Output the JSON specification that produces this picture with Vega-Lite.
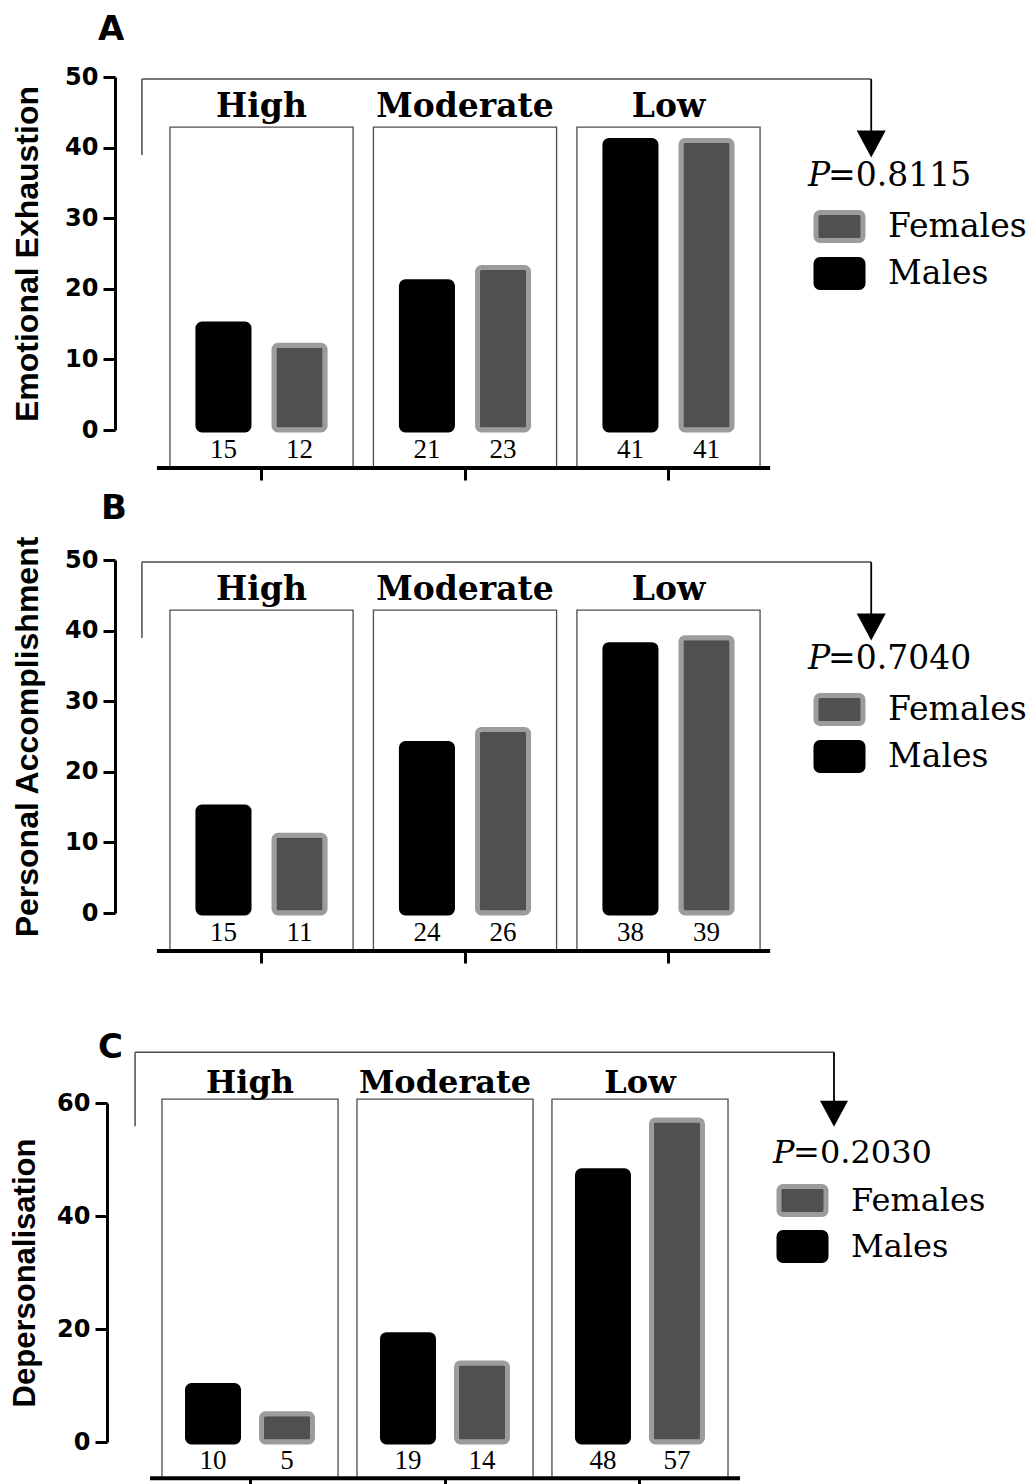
{
  "$schema": "https://vega.github.io/schema/vega-lite/v6.json",
  "padding": {"left": 9, "top": 13, "right": 0, "bottom": 0},
  "background": "white",
  "datasets": {
    "bars": [
      {"panel": "A", "group": "High", "sex": "Males", "value": 15},
      {"panel": "A", "group": "High", "sex": "Females", "value": 12},
      {"panel": "A", "group": "Moderate", "sex": "Males", "value": 21},
      {"panel": "A", "group": "Moderate", "sex": "Females", "value": 23},
      {"panel": "A", "group": "Low", "sex": "Males", "value": 41},
      {"panel": "A", "group": "Low", "sex": "Females", "value": 41},
      {"panel": "B", "group": "High", "sex": "Males", "value": 15},
      {"panel": "B", "group": "High", "sex": "Females", "value": 11},
      {"panel": "B", "group": "Moderate", "sex": "Males", "value": 24},
      {"panel": "B", "group": "Moderate", "sex": "Females", "value": 26},
      {"panel": "B", "group": "Low", "sex": "Males", "value": 38},
      {"panel": "B", "group": "Low", "sex": "Females", "value": 39},
      {"panel": "C", "group": "High", "sex": "Males", "value": 10},
      {"panel": "C", "group": "High", "sex": "Females", "value": 5},
      {"panel": "C", "group": "Moderate", "sex": "Males", "value": 19},
      {"panel": "C", "group": "Moderate", "sex": "Females", "value": 14},
      {"panel": "C", "group": "Low", "sex": "Males", "value": 48},
      {"panel": "C", "group": "Low", "sex": "Females", "value": 57}
    ],
    "groups": [{"group": "High"}, {"group": "Moderate"}, {"group": "Low"}],
    "pvals": [
      {"panel": "A", "p": "=0.8115"},
      {"panel": "B", "p": "=0.7040"},
      {"panel": "C", "p": "=0.2030"}
    ],
    "one": [{}]
  },
  "spacing": 66,
  "resolve": {
    "scale": {"x": "independent", "y": "independent", "xOffset": "independent", "fill": "independent", "stroke": "independent"},
    "legend": {"fill": "independent", "stroke": "independent"}
  },
  "vconcat": [
    {
      "spacing": 9,
      "resolve": {
        "scale": {"x": "independent", "y": "independent", "xOffset": "independent", "fill": "independent", "stroke": "independent"},
        "legend": {"fill": "independent", "stroke": "independent"}
      },
      "vconcat": [
        {
          "width": 700, "height": 353,
          "title": {"text": "A", "anchor": "start", "frame": "group", "dx": -17, "offset": 18, "font": "DejaVu Sans", "fontWeight": "bold", "fontSize": 34, "color": "black"},
          "layer": [
            {
              "data": {"name": "groups"},
              "mark": {"type": "rect", "fillOpacity": 0, "stroke": "#4d4d4d", "strokeWidth": 1.3},
              "encoding": {
                "x": {"field": "group", "type": "nominal", "sort": null,
                  "scale": {"domain": ["High", "Moderate", "Low"], "paddingInner": 0.1, "paddingOuter": 0.27},
                  "axis": {"orient": "bottom", "offset": 38, "domain": false, "labels": false, "ticks": true, "tickSize": 12, "tickWidth": 3, "tickColor": "black", "title": null, "grid": false}},
                "y": {"datum": 42.9, "type": "quantitative"},
                "y2": {"datum": -5.38}
              }
            },
            {
              "data": {"name": "bars"},
              "transform": [{"filter": {"field": "panel", "equal": "A"}}],
              "mark": {"type": "bar", "cornerRadius": 4, "strokeWidth": 5},
              "encoding": {
                "x": {"field": "group", "type": "nominal", "sort": null},
                "xOffset": {"field": "sex", "type": "nominal", "scale": {"domain": ["Males", "Females"], "paddingInner": 0.329, "paddingOuter": 0.368}},
                "y": {"field": "value", "type": "quantitative",
                  "scale": {"domain": [0, 50], "nice": false, "zero": true},
                  "axis": {"title": "Emotional Exhaustion", "values": [0, 10, 20, 30, 40, 50], "grid": false, "domain": true, "domainColor": "black", "domainWidth": 3, "ticks": true, "tickSize": 12, "tickWidth": 3, "tickColor": "black", "labelFont": "DejaVu Sans", "labelFontWeight": "bold", "labelFontSize": 24, "labelColor": "black", "labelPadding": 5, "labelFlush": false, "titleFont": "Liberation Sans", "titleFontWeight": "bold", "titleFontSize": 32, "titleColor": "black", "titlePadding": 20}},
                "fill": {"field": "sex", "type": "nominal", "scale": {"domain": ["Females", "Males"], "range": ["#505050", "#000000"]},
                  "legend": {"title": null, "orient": "none", "legendX": 702, "legendY": 127, "padding": 0, "symbolType": "M-0.975,-0.7L0.975,-0.7A0.2,0.2,0,0,1,1.175,-0.5L1.175,0.5A0.2,0.2,0,0,1,0.975,0.7L-0.975,0.7A0.2,0.2,0,0,1,-1.175,0.5L-1.175,-0.5A0.2,0.2,0,0,1,-0.975,-0.7Z", "symbolSize": 1600, "symbolStrokeWidth": 5, "symbolOpacity": 1, "labelFont": "DejaVu Serif", "labelFontSize": 33, "labelColor": "black", "labelOffset": 26, "rowPadding": -2}},
                "stroke": {"field": "sex", "type": "nominal", "scale": {"domain": ["Females", "Males"], "range": ["#9c9c9c", "#000000"]},
                  "legend": {"title": null, "orient": "none", "legendX": 702, "legendY": 127, "padding": 0, "symbolType": "M-0.975,-0.7L0.975,-0.7A0.2,0.2,0,0,1,1.175,-0.5L1.175,0.5A0.2,0.2,0,0,1,0.975,0.7L-0.975,0.7A0.2,0.2,0,0,1,-1.175,0.5L-1.175,-0.5A0.2,0.2,0,0,1,-0.975,-0.7Z", "symbolSize": 1600, "symbolStrokeWidth": 5, "symbolOpacity": 1, "labelFont": "DejaVu Serif", "labelFontSize": 33, "labelColor": "black", "labelOffset": 26, "rowPadding": -2}}
              }
            },
            {
              "data": {"name": "bars"},
              "transform": [{"filter": {"field": "panel", "equal": "A"}}],
              "mark": {"type": "text", "font": "Liberation Serif", "fontSize": 27, "baseline": "middle", "color": "black"},
              "encoding": {
                "x": {"field": "group", "type": "nominal", "sort": null},
                "xOffset": {"field": "sex", "type": "nominal"},
                "y": {"datum": -2.8, "type": "quantitative"},
                "text": {"field": "value", "type": "quantitative"}
              }
            },
            {
              "data": {"name": "groups"},
              "mark": {"type": "text", "font": "DejaVu Serif", "fontWeight": "bold", "fontSize": 33, "baseline": "alphabetic", "color": "black"},
              "encoding": {
                "x": {"field": "group", "type": "nominal", "sort": null},
                "y": {"datum": 44.3, "type": "quantitative"},
                "text": {"field": "group", "type": "nominal"}
              }
            },
            {
              "data": {"name": "one"},
              "mark": {"type": "rule", "color": "black", "strokeWidth": 4},
              "encoding": {
                "x": {"datum": "High", "type": "nominal", "bandPosition": -0.071},
                "x2": {"datum": "Low", "bandPosition": 1.055},
                "y": {"datum": -5.38, "type": "quantitative"}
              }
            },
            {
              "data": {"name": "one"},
              "mark": {"type": "rule", "color": "#4d4d4d", "strokeWidth": 1.5},
              "encoding": {
                "x": {"datum": "High", "type": "nominal", "bandPosition": -0.153},
                "x2": {"datum": "Low", "bandPosition": 1.607},
                "y": {"datum": 49.7, "type": "quantitative"}
              }
            },
            {
              "data": {"name": "one"},
              "mark": {"type": "rule", "color": "#4d4d4d", "strokeWidth": 1.5},
              "encoding": {
                "x": {"datum": "High", "type": "nominal", "bandPosition": -0.153},
                "y": {"datum": 49.7, "type": "quantitative"},
                "y2": {"datum": 38.95}
              }
            },
            {
              "data": {"name": "one"},
              "mark": {"type": "rule", "color": "black", "strokeWidth": 1.8},
              "encoding": {
                "x": {"datum": "Low", "type": "nominal", "bandPosition": 1.607},
                "y": {"datum": 49.7, "type": "quantitative"},
                "y2": {"datum": 42}
              }
            },
            {
              "data": {"name": "one"},
              "mark": {"type": "point", "shape": "M-1,-0.93L1,-0.93L0,0.93Z", "size": 841, "filled": true, "color": "black", "opacity": 1},
              "encoding": {
                "x": {"datum": "Low", "type": "nominal", "bandPosition": 1.607},
                "y": {"datum": 40.5, "type": "quantitative"}
              }
            },
            {
              "data": {"name": "one"},
              "mark": {"type": "text", "text": "P", "font": "DejaVu Serif", "fontStyle": "italic", "fontSize": 33, "align": "left", "baseline": "alphabetic", "color": "black"},
              "encoding": {
                "x": {"datum": "Low", "type": "nominal", "bandPosition": 1.262},
                "y": {"datum": 34.6, "type": "quantitative"}
              }
            },
            {
              "data": {"name": "pvals"},
              "transform": [{"filter": {"field": "panel", "equal": "A"}}],
              "mark": {"type": "text", "font": "DejaVu Serif", "fontSize": 33, "align": "left", "baseline": "alphabetic", "color": "black", "dx": 20},
              "encoding": {
                "x": {"datum": "Low", "type": "nominal", "bandPosition": 1.262},
                "y": {"datum": 34.6, "type": "quantitative"},
                "text": {"field": "p", "type": "nominal"}
              }
            }
          ]
        },
        {
          "width": 700, "height": 353,
          "title": {"text": "B", "anchor": "start", "frame": "group", "dx": -14, "offset": 10, "font": "DejaVu Sans", "fontWeight": "bold", "fontSize": 34, "color": "black"},
          "layer": [
            {
              "data": {"name": "groups"},
              "mark": {"type": "rect", "fillOpacity": 0, "stroke": "#4d4d4d", "strokeWidth": 1.3},
              "encoding": {
                "x": {"field": "group", "type": "nominal", "sort": null,
                  "scale": {"domain": ["High", "Moderate", "Low"], "paddingInner": 0.1, "paddingOuter": 0.27},
                  "axis": {"orient": "bottom", "offset": 38, "domain": false, "labels": false, "ticks": true, "tickSize": 12, "tickWidth": 3, "tickColor": "black", "title": null, "grid": false}},
                "y": {"datum": 42.9, "type": "quantitative"},
                "y2": {"datum": -5.38}
              }
            },
            {
              "data": {"name": "bars"},
              "transform": [{"filter": {"field": "panel", "equal": "B"}}],
              "mark": {"type": "bar", "cornerRadius": 4, "strokeWidth": 5},
              "encoding": {
                "x": {"field": "group", "type": "nominal", "sort": null},
                "xOffset": {"field": "sex", "type": "nominal", "scale": {"domain": ["Males", "Females"], "paddingInner": 0.329, "paddingOuter": 0.368}},
                "y": {"field": "value", "type": "quantitative",
                  "scale": {"domain": [0, 50], "nice": false, "zero": true},
                  "axis": {"title": "Personal Accomplishment", "values": [0, 10, 20, 30, 40, 50], "grid": false, "domain": true, "domainColor": "black", "domainWidth": 3, "ticks": true, "tickSize": 12, "tickWidth": 3, "tickColor": "black", "labelFont": "DejaVu Sans", "labelFontWeight": "bold", "labelFontSize": 24, "labelColor": "black", "labelPadding": 5, "labelFlush": false, "titleFont": "Liberation Sans", "titleFontWeight": "bold", "titleFontSize": 32, "titleColor": "black", "titlePadding": 20}},
                "fill": {"field": "sex", "type": "nominal", "scale": {"domain": ["Females", "Males"], "range": ["#505050", "#000000"]},
                  "legend": {"title": null, "orient": "none", "legendX": 702, "legendY": 127, "padding": 0, "symbolType": "M-0.975,-0.7L0.975,-0.7A0.2,0.2,0,0,1,1.175,-0.5L1.175,0.5A0.2,0.2,0,0,1,0.975,0.7L-0.975,0.7A0.2,0.2,0,0,1,-1.175,0.5L-1.175,-0.5A0.2,0.2,0,0,1,-0.975,-0.7Z", "symbolSize": 1600, "symbolStrokeWidth": 5, "symbolOpacity": 1, "labelFont": "DejaVu Serif", "labelFontSize": 33, "labelColor": "black", "labelOffset": 26, "rowPadding": -2}},
                "stroke": {"field": "sex", "type": "nominal", "scale": {"domain": ["Females", "Males"], "range": ["#9c9c9c", "#000000"]},
                  "legend": {"title": null, "orient": "none", "legendX": 702, "legendY": 127, "padding": 0, "symbolType": "M-0.975,-0.7L0.975,-0.7A0.2,0.2,0,0,1,1.175,-0.5L1.175,0.5A0.2,0.2,0,0,1,0.975,0.7L-0.975,0.7A0.2,0.2,0,0,1,-1.175,0.5L-1.175,-0.5A0.2,0.2,0,0,1,-0.975,-0.7Z", "symbolSize": 1600, "symbolStrokeWidth": 5, "symbolOpacity": 1, "labelFont": "DejaVu Serif", "labelFontSize": 33, "labelColor": "black", "labelOffset": 26, "rowPadding": -2}}
              }
            },
            {
              "data": {"name": "bars"},
              "transform": [{"filter": {"field": "panel", "equal": "B"}}],
              "mark": {"type": "text", "font": "Liberation Serif", "fontSize": 27, "baseline": "middle", "color": "black"},
              "encoding": {
                "x": {"field": "group", "type": "nominal", "sort": null},
                "xOffset": {"field": "sex", "type": "nominal"},
                "y": {"datum": -2.8, "type": "quantitative"},
                "text": {"field": "value", "type": "quantitative"}
              }
            },
            {
              "data": {"name": "groups"},
              "mark": {"type": "text", "font": "DejaVu Serif", "fontWeight": "bold", "fontSize": 33, "baseline": "alphabetic", "color": "black"},
              "encoding": {
                "x": {"field": "group", "type": "nominal", "sort": null},
                "y": {"datum": 44.3, "type": "quantitative"},
                "text": {"field": "group", "type": "nominal"}
              }
            },
            {
              "data": {"name": "one"},
              "mark": {"type": "rule", "color": "black", "strokeWidth": 4},
              "encoding": {
                "x": {"datum": "High", "type": "nominal", "bandPosition": -0.071},
                "x2": {"datum": "Low", "bandPosition": 1.055},
                "y": {"datum": -5.38, "type": "quantitative"}
              }
            },
            {
              "data": {"name": "one"},
              "mark": {"type": "rule", "color": "#4d4d4d", "strokeWidth": 1.5},
              "encoding": {
                "x": {"datum": "High", "type": "nominal", "bandPosition": -0.153},
                "x2": {"datum": "Low", "bandPosition": 1.607},
                "y": {"datum": 49.7, "type": "quantitative"}
              }
            },
            {
              "data": {"name": "one"},
              "mark": {"type": "rule", "color": "#4d4d4d", "strokeWidth": 1.5},
              "encoding": {
                "x": {"datum": "High", "type": "nominal", "bandPosition": -0.153},
                "y": {"datum": 49.7, "type": "quantitative"},
                "y2": {"datum": 38.95}
              }
            },
            {
              "data": {"name": "one"},
              "mark": {"type": "rule", "color": "black", "strokeWidth": 1.8},
              "encoding": {
                "x": {"datum": "Low", "type": "nominal", "bandPosition": 1.607},
                "y": {"datum": 49.7, "type": "quantitative"},
                "y2": {"datum": 42}
              }
            },
            {
              "data": {"name": "one"},
              "mark": {"type": "point", "shape": "M-1,-0.93L1,-0.93L0,0.93Z", "size": 841, "filled": true, "color": "black", "opacity": 1},
              "encoding": {
                "x": {"datum": "Low", "type": "nominal", "bandPosition": 1.607},
                "y": {"datum": 40.5, "type": "quantitative"}
              }
            },
            {
              "data": {"name": "one"},
              "mark": {"type": "text", "text": "P", "font": "DejaVu Serif", "fontStyle": "italic", "fontSize": 33, "align": "left", "baseline": "alphabetic", "color": "black"},
              "encoding": {
                "x": {"datum": "Low", "type": "nominal", "bandPosition": 1.262},
                "y": {"datum": 34.6, "type": "quantitative"}
              }
            },
            {
              "data": {"name": "pvals"},
              "transform": [{"filter": {"field": "panel", "equal": "B"}}],
              "mark": {"type": "text", "font": "DejaVu Serif", "fontSize": 33, "align": "left", "baseline": "alphabetic", "color": "black", "dx": 20},
              "encoding": {
                "x": {"datum": "Low", "type": "nominal", "bandPosition": 1.262},
                "y": {"datum": 34.6, "type": "quantitative"},
                "text": {"field": "p", "type": "nominal"}
              }
            }
          ]
        }
      ]
    },
    {
      "width": 660, "height": 339,
      "title": {"text": "C", "anchor": "start", "frame": "group", "dx": -17, "offset": -14, "font": "DejaVu Sans", "fontWeight": "bold", "fontSize": 34, "color": "black"},
      "layer": [
        {
          "data": {"name": "groups"},
          "mark": {"type": "rect", "fillOpacity": 0, "stroke": "#4d4d4d", "strokeWidth": 1.3},
          "encoding": {
            "x": {"field": "group", "type": "nominal", "sort": null,
              "scale": {"domain": ["High", "Moderate", "Low"], "paddingInner": 0.097, "paddingOuter": 0.241},
              "axis": {"orient": "bottom", "offset": 36, "domain": false, "labels": false, "ticks": true, "tickSize": 12, "tickWidth": 3, "tickColor": "black", "title": null, "grid": false}},
            "y": {"datum": 60.7, "type": "quantitative"},
            "y2": {"datum": -6.4}
          }
        },
        {
          "data": {"name": "bars"},
          "transform": [{"filter": {"field": "panel", "equal": "C"}}],
          "mark": {"type": "bar", "cornerRadius": 4, "strokeWidth": 5},
          "encoding": {
            "x": {"field": "group", "type": "nominal", "sort": null},
            "xOffset": {"field": "sex", "type": "nominal", "scale": {"domain": ["Males", "Females"], "paddingInner": 0.311, "paddingOuter": 0.345}},
            "y": {"field": "value", "type": "quantitative",
              "scale": {"domain": [0, 60], "nice": false, "zero": true},
              "axis": {"title": "Depersonalisation", "values": [0, 20, 40, 60], "offset": 8, "grid": false, "domain": true, "domainColor": "black", "domainWidth": 3, "ticks": true, "tickSize": 12, "tickWidth": 3, "tickColor": "black", "labelFont": "DejaVu Sans", "labelFontWeight": "bold", "labelFontSize": 24, "labelColor": "black", "labelPadding": 5, "labelFlush": false, "titleFont": "Liberation Sans", "titleFontWeight": "bold", "titleFontSize": 31, "titleColor": "black", "titlePadding": 15}},
            "fill": {"field": "sex", "type": "nominal", "scale": {"domain": ["Females", "Males"], "range": ["#505050", "#000000"]},
              "legend": {"title": null, "orient": "none", "legendX": 666, "legendY": 76, "padding": 0, "symbolType": "M-1.027,-0.737L1.027,-0.737A0.21,0.21,0,0,1,1.237,-0.527L1.237,0.527A0.21,0.21,0,0,1,1.027,0.737L-1.027,0.737A0.21,0.21,0,0,1,-1.237,0.527L-1.237,-0.527A0.21,0.21,0,0,1,-1.027,-0.737Z", "symbolSize": 1444, "symbolStrokeWidth": 5, "symbolOpacity": 1, "labelFont": "DejaVu Serif", "labelFontSize": 32, "labelColor": "black", "labelOffset": 27, "rowPadding": -5}},
            "stroke": {"field": "sex", "type": "nominal", "scale": {"domain": ["Females", "Males"], "range": ["#9c9c9c", "#000000"]},
              "legend": {"title": null, "orient": "none", "legendX": 666, "legendY": 76, "padding": 0, "symbolType": "M-1.027,-0.737L1.027,-0.737A0.21,0.21,0,0,1,1.237,-0.527L1.237,0.527A0.21,0.21,0,0,1,1.027,0.737L-1.027,0.737A0.21,0.21,0,0,1,-1.237,0.527L-1.237,-0.527A0.21,0.21,0,0,1,-1.027,-0.737Z", "symbolSize": 1444, "symbolStrokeWidth": 5, "symbolOpacity": 1, "labelFont": "DejaVu Serif", "labelFontSize": 32, "labelColor": "black", "labelOffset": 27, "rowPadding": -5}}
          }
        },
        {
          "data": {"name": "bars"},
          "transform": [{"filter": {"field": "panel", "equal": "C"}}],
          "mark": {"type": "text", "font": "Liberation Serif", "fontSize": 27, "baseline": "middle", "color": "black"},
          "encoding": {
            "x": {"field": "group", "type": "nominal", "sort": null},
            "xOffset": {"field": "sex", "type": "nominal"},
            "y": {"datum": -3.4, "type": "quantitative"},
            "text": {"field": "value", "type": "quantitative"}
          }
        },
        {
          "data": {"name": "groups"},
          "mark": {"type": "text", "font": "DejaVu Serif", "fontWeight": "bold", "fontSize": 32, "baseline": "alphabetic", "color": "black"},
          "encoding": {
            "x": {"field": "group", "type": "nominal", "sort": null},
            "y": {"datum": 61.8, "type": "quantitative"},
            "text": {"field": "group", "type": "nominal"}
          }
        },
        {
          "data": {"name": "one"},
          "mark": {"type": "rule", "color": "black", "strokeWidth": 4},
          "encoding": {
            "x": {"datum": "High", "type": "nominal", "bandPosition": -0.068},
            "x2": {"datum": "Low", "bandPosition": 1.068},
            "y": {"datum": -6.4, "type": "quantitative"}
          }
        },
        {
          "data": {"name": "one"},
          "mark": {"type": "rule", "color": "#4d4d4d", "strokeWidth": 1.5},
          "encoding": {
            "x": {"datum": "High", "type": "nominal", "bandPosition": -0.153},
            "x2": {"datum": "Low", "bandPosition": 1.602},
            "y": {"datum": 69, "type": "quantitative"}
          }
        },
        {
          "data": {"name": "one"},
          "mark": {"type": "rule", "color": "#4d4d4d", "strokeWidth": 1.5},
          "encoding": {
            "x": {"datum": "High", "type": "nominal", "bandPosition": -0.153},
            "y": {"datum": 69, "type": "quantitative"},
            "y2": {"datum": 55.9}
          }
        },
        {
          "data": {"name": "one"},
          "mark": {"type": "rule", "color": "black", "strokeWidth": 1.8},
          "encoding": {
            "x": {"datum": "Low", "type": "nominal", "bandPosition": 1.602},
            "y": {"datum": 69, "type": "quantitative"},
            "y2": {"datum": 60}
          }
        },
        {
          "data": {"name": "one"},
          "mark": {"type": "point", "shape": "M-1,-0.93L1,-0.93L0,0.93Z", "size": 784, "filled": true, "color": "black", "opacity": 1},
          "encoding": {
            "x": {"datum": "Low", "type": "nominal", "bandPosition": 1.602},
            "y": {"datum": 58.1, "type": "quantitative"}
          }
        },
        {
          "data": {"name": "one"},
          "mark": {"type": "text", "text": "P", "font": "DejaVu Serif", "fontStyle": "italic", "fontSize": 32, "align": "left", "baseline": "alphabetic", "color": "black"},
          "encoding": {
            "x": {"datum": "Low", "type": "nominal", "bandPosition": 1.256},
            "y": {"datum": 49.4, "type": "quantitative"}
          }
        },
        {
          "data": {"name": "pvals"},
          "transform": [{"filter": {"field": "panel", "equal": "C"}}],
          "mark": {"type": "text", "font": "DejaVu Serif", "fontSize": 32, "align": "left", "baseline": "alphabetic", "color": "black", "dx": 20},
          "encoding": {
            "x": {"datum": "Low", "type": "nominal", "bandPosition": 1.256},
            "y": {"datum": 49.4, "type": "quantitative"},
            "text": {"field": "p", "type": "nominal"}
          }
        }
      ]
    }
  ],
  "config": {
    "view": {"stroke": null},
    "axis": {"grid": false}
  }
}
